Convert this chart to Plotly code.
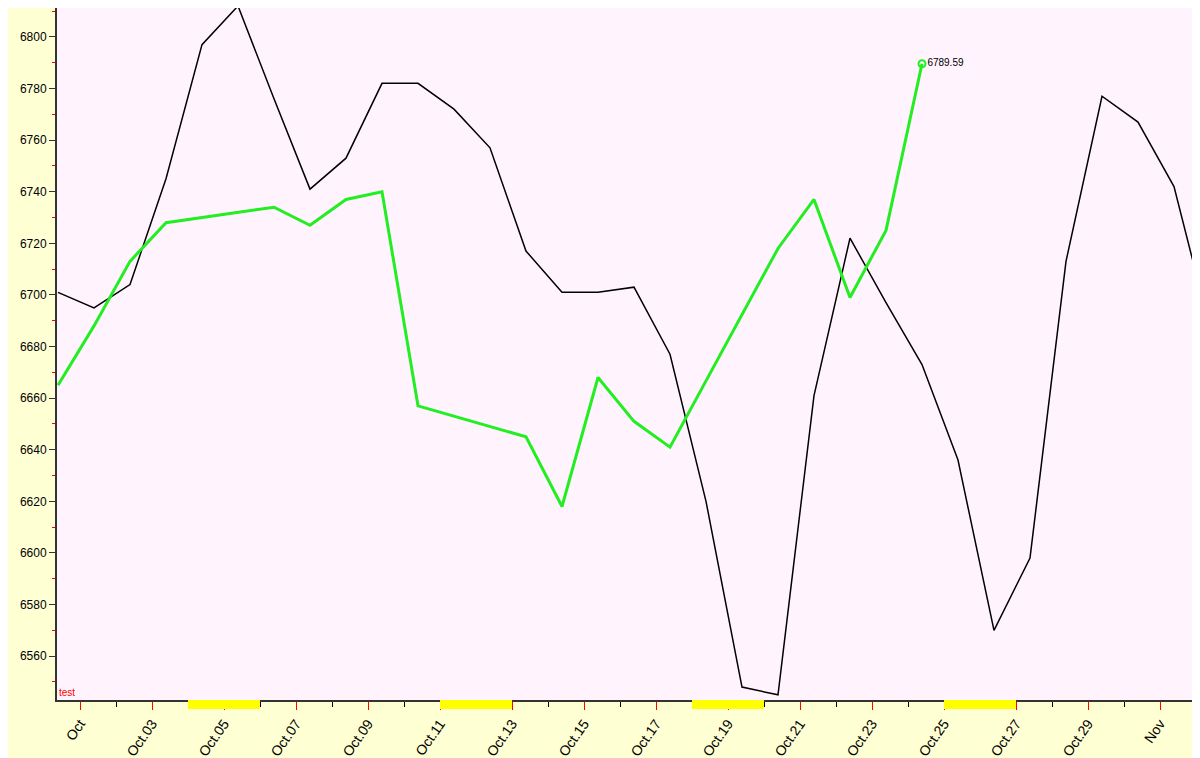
import plotly.graph_objects as go
import pandas as pd

black_start = "2025-09-30 09:20"
black_vals = [6701, 6695, 6704, 6745, 6797, 6812, 6776, 6741, 6753, 6782, 6782, 6772, 6757,
              6717, 6701, 6701, 6703, 6677, 6620, 6548, 6545, 6661, 6722, 6697, 6673, 6636,
              6570, 6598, 6713, 6777, 6767, 6742, 6687]
green_days = [0, 1, 2, 3, 6, 7, 8, 9, 10, 13, 14, 15, 16, 17, 20, 21, 22, 23, 24]
green_vals = [6665, 6688, 6713, 6728, 6734, 6727, 6737, 6740, 6657, 6645, 6618, 6668, 6651,
              6641, 6718, 6737, 6699, 6725, 6789.59]
weekend_starts = ["2025-10-04", "2025-10-11", "2025-10-18", "2025-10-25"]
tick_dates = pd.date_range("2025-10-01", "2025-11-01", freq="2D")
tick_text = ["Oct"] + [d.strftime("Oct.%d") for d in tick_dates[1:-1]] + ["Nov"]

t0 = pd.Timestamp(black_start)
bx = [t0 + pd.Timedelta(days=i) for i in range(len(black_vals))]
gx = [t0 + pd.Timedelta(days=d) for d in green_days]

fig = go.Figure()
fig.add_trace(go.Scatter(x=bx, y=black_vals, mode="lines", line=dict(color="black", width=1.5)))
fig.add_trace(go.Scatter(x=gx, y=green_vals, mode="lines", line=dict(color="#22ee22", width=3)))
fig.add_trace(go.Scatter(x=[gx[-1]], y=[green_vals[-1]], mode="markers+text",
                         marker=dict(symbol="circle-open", size=7, color="#22ee22", line=dict(width=2)),
                         text=[f"{green_vals[-1]:.2f}"], textposition="middle right",
                         textfont=dict(size=10, color="black")))

for w in weekend_starts:
    s = pd.Timestamp(w)
    fig.add_shape(type="rect", xref="x", yref="paper", x0=s, x1=s + pd.Timedelta(days=2),
                  y0=-0.013, y1=0, fillcolor="yellow", line_width=0, layer="above")

fig.add_annotation(xref="paper", yref="paper", x=0, y=0, text="test", showarrow=False,
                   xanchor="left", yanchor="bottom", font=dict(color="red", size=10))

fig.update_layout(
    width=1200, height=758, showlegend=False,
    paper_bgcolor="#ffffd4", plot_bgcolor="#fff4fe",
    margin=dict(l=49, r=0, t=0, b=66, autoexpand=False),
    font=dict(family="Liberation Sans, Arial", size=12, color="black"),
)
fig.update_xaxes(range=["2025-09-30 08:40", "2025-11-01 08:00"], tickvals=tick_dates,
                 ticktext=tick_text, tickangle=-55, ticks="outside", tickcolor="red",
                 ticklen=8, showgrid=False, showline=True, linecolor="#333", linewidth=2,
                 tickfont=dict(size=14), automargin=False,
                 minor=dict(tickvals=pd.date_range("2025-10-02", "2025-11-01", freq="2D"),
                            ticks="outside", ticklen=5, tickcolor="black"))
fig.update_yaxes(range=[6543, 6811.2], dtick=20, ticks="outside", ticklen=6, tickcolor="#333",
                 showgrid=False, showline=True, linecolor="#333", linewidth=2, zeroline=False,
                 automargin=False,
                 minor=dict(dtick=10, ticks="outside", ticklen=3, tickcolor="red"))
fig.write_html("out.html")
